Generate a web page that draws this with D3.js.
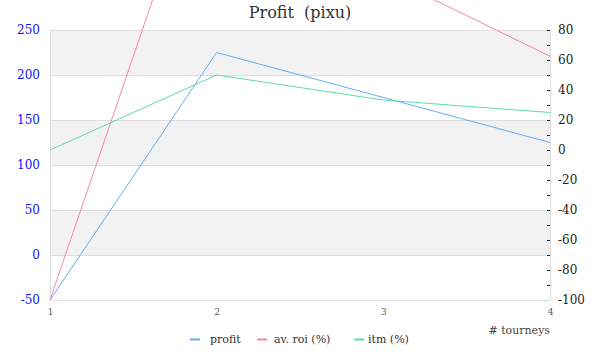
<!DOCTYPE html>
<html><head><meta charset="utf-8">
<script src="https://cdn.jsdelivr.net/npm/d3@7"></script>
<style>body{margin:0;background:#fff}</style>
</head><body>
<script>
const tourneys = [1, 2, 3, 4];
const profit = [-50, 225, 175, 125];
const avRoi = [-100, 225, 116.7, 62.5];
const itm = [0, 50, 33.3, 25];
const leftTicks = [-50, 0, 50, 100, 150, 200, 250];
const rightTicks = [-100, -80, -60, -40, -20, 0, 20, 40, 60, 80];
const seriesNames = ["profit", "av. roi (%)", "itm (%)"];
const colors = ["#66aaf5", "#f585b5", "#5ddca5"];

const FONT = "DejaVu Serif";
const W = 600, H = 360;
const m = {l: 50, r: 50, t: 30, b: 60};
const svg = d3.select("body").append("svg").attr("width", W).attr("height", H);
const fmt = d => String(d);

const x = d3.scaleLinear().domain([1, 4]).range([m.l, W - m.r]);
const yL = d3.scaleLinear().domain([-50, 250]).range([H - m.b, m.t]);
const yR = d3.scaleLinear().domain([-100, 80]).range([H - m.b, m.t]);

const bands = d3.range(0, leftTicks.length - 1);
svg.append("g").selectAll("rect").data(bands).join("rect")
  .attr("x", m.l).attr("width", W - m.r - m.l)
  .attr("y", i => yL(leftTicks[i + 1])).attr("height", i => yL(leftTicks[i]) - yL(leftTicks[i + 1]))
  .attr("fill", i => (leftTicks.length - 2 - i) % 2 === 0 ? "#f2f2f2" : "#fff");

svg.append("g").selectAll("line").data(leftTicks).join("line")
  .attr("x1", m.l).attr("x2", W - m.r)
  .attr("y1", d => yL(d) + 0.5).attr("y2", d => yL(d) + 0.5)
  .attr("stroke", "#ddd");

svg.append("line").attr("x1", m.l + 0.5).attr("x2", m.l + 0.5).attr("y1", m.t).attr("y2", H - m.b).attr("stroke", "#ddd");
svg.append("line").attr("x1", W - m.r + 0.5).attr("x2", W - m.r + 0.5).attr("y1", m.t).attr("y2", H - m.b).attr("stroke", "#ddd");

const gL = svg.append("g").attr("transform", `translate(${m.l},0)`)
  .call(d3.axisLeft(yL).tickValues(leftTicks).tickFormat(fmt).tickSize(0).tickPadding(10));
gL.select(".domain").remove();
gL.attr("font-family", FONT);
gL.selectAll("text").attr("fill", "#1010ff").attr("font-family", FONT).style("font-size", "12px");

const gR = svg.append("g").attr("transform", `translate(${W - m.r},0)`)
  .call(d3.axisRight(yR).tickValues(rightTicks).tickFormat(fmt).tickSize(0).tickPadding(8));
gR.select(".domain").remove();
gR.attr("font-family", FONT);
gR.selectAll("text").attr("fill", "#222").attr("font-family", FONT).style("font-size", "12px");
const minor = d3.range(-100, 81, 10);
svg.append("g").selectAll("line").data(minor).join("line")
  .attr("x1", W - m.r - 3).attr("x2", W - m.r)
  .attr("y1", d => yR(d) + 0.5).attr("y2", d => yR(d) + 0.5)
  .attr("stroke", "#222");

const gX = svg.append("g").attr("transform", `translate(0,${H - m.b})`)
  .call(d3.axisBottom(x).tickValues(tourneys).tickFormat(d3.format("d")).tickSize(0).tickPadding(9));
gX.select(".domain").attr("stroke", "#ddd");
gX.attr("font-family", FONT);
gX.selectAll("text").attr("fill", "#555").attr("font-family", FONT).style("font-size", "9px");

svg.append("text").attr("x", W - m.r).attr("y", 334).attr("text-anchor", "end")
  .attr("fill", "#444").attr("font-family", FONT).attr("font-size", 11).text("# tourneys");

const mk = (ys, scale) => d3.line().x((d, i) => x(tourneys[i])).y(d => scale(d))(ys);
const data = [[profit, yL], [avRoi, yR], [itm, yR]];
svg.append("g").selectAll("path").data(data).join("path")
  .attr("d", d => mk(d[0], d[1])).attr("fill", "none")
  .attr("stroke", (d, i) => colors[i]).attr("stroke-width", 1);

svg.append("text").attr("x", 300).attr("y", 18).attr("text-anchor", "middle")
  .attr("fill", "#333").attr("font-family", FONT).attr("font-size", 16)
  .style("white-space", "pre").text("Profit  (pixu)");

const legMarkX = [190, 257, 354];
const legTextX = [210, 274, 368];
const lg = svg.append("g").selectAll("g").data(seriesNames).join("g");
lg.append("line").attr("x1", (d, i) => legMarkX[i]).attr("x2", (d, i) => legMarkX[i] + 10)
  .attr("y1", 339.5).attr("y2", 339.5)
  .attr("stroke", (d, i) => colors[i]).attr("stroke-width", 2);
lg.append("text").attr("x", (d, i) => legTextX[i]).attr("y", 343).attr("fill", "#333").attr("font-size", 11)
  .attr("font-family", FONT).text(d => d);
</script>
</body></html>
